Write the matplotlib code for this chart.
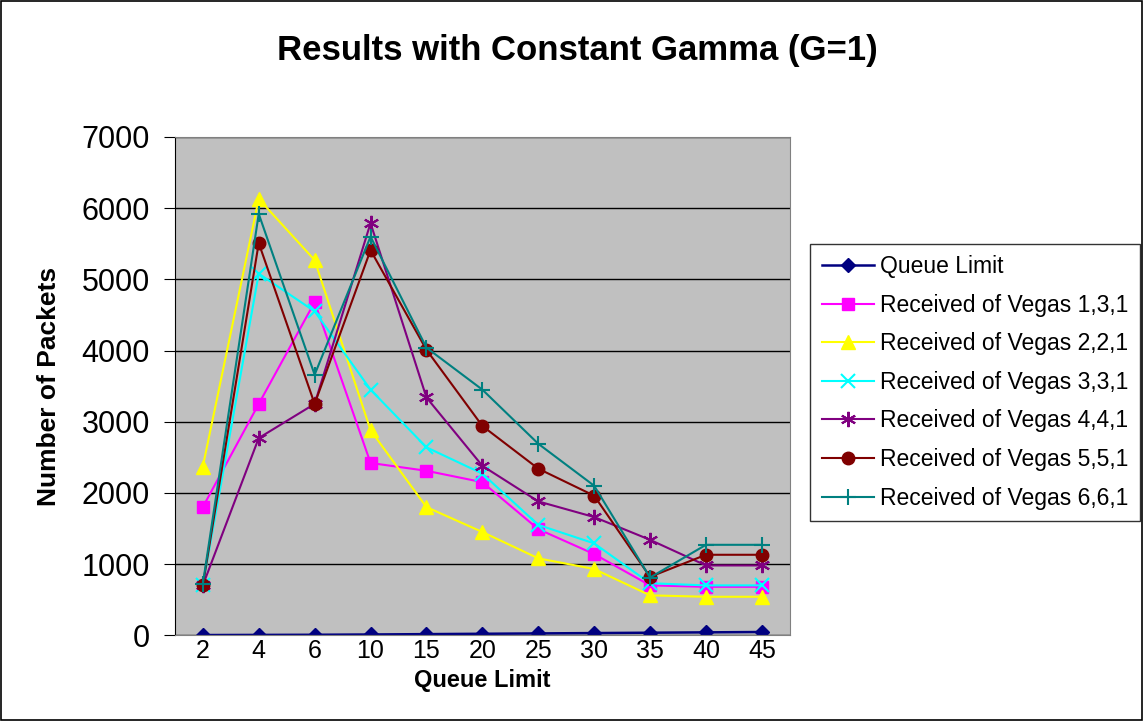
import numpy as np
from matplotlib import pyplot as plt
from matplotlib.patches import Rectangle

plt.rcParams['font.family'] = ['Liberation Sans', 'DejaVu Sans']

# datos
queue = ['2', '4', '6', '10', '15', '20', '25', '30', '35', '40', '45']
queue_limit = [2, 4, 6, 10, 15, 20, 25, 30, 35, 40, 45]
vegas_131 = [1800, 3250, 4680, 2420, 2310, 2150, 1490, 1140, 700, 680, 680]
vegas_221 = [2370, 6130, 5270, 2880, 1800, 1450, 1080, 930, 560, 540, 540]
vegas_331 = [700, 5080, 4550, 3450, 2640, 2270, 1550, 1290, 730, 700, 700]
vegas_441 = [700, 2770, 3250, 5790, 3340, 2380, 1880, 1660, 1340, 980, 980]
vegas_551 = [700, 5510, 3250, 5410, 4010, 2940, 2340, 1960, 820, 1130, 1130]
vegas_661 = [720, 5920, 3660, 5600, 4040, 3450, 2690, 2100, 810, 1270, 1270]

fig = plt.figure(figsize=(11.43, 7.21), dpi=100)
fig.patches.append(Rectangle((0.001, 0.001), 0.998, 0.998, transform=fig.transFigure,
                             fill=False, edgecolor='black', linewidth=1.2))
ax = fig.add_axes([0.153, 0.119, 0.538, 0.691])
ax.set_facecolor('#c0c0c0')

x = np.arange(len(queue))
ax.plot(x, queue_limit, color='#000080', marker='D', markersize=7, lw=1.8, label='Queue Limit')
ax.plot(x, vegas_131, color='#ff00ff', marker='s', markersize=8, lw=1.5, label='Received of Vegas 1,3,1')
ax.plot(x, vegas_221, color='#ffff00', marker='^', markersize=10, lw=1.5, label='Received of Vegas 2,2,1')
ax.plot(x, vegas_331, color='#00ffff', marker='x', markersize=10, mew=1.5, lw=1.5, label='Received of Vegas 3,3,1')
ax.plot(x, vegas_441, color='#800080', marker=(6, 2, 0), markersize=11, mew=1.5, lw=1.5, label='Received of Vegas 4,4,1')
ax.plot(x, vegas_551, color='#800000', marker='o', markersize=9, lw=1.5, label='Received of Vegas 5,5,1')
ax.plot(x, vegas_661, color='#008080', marker='+', markersize=12, mew=1.5, lw=1.5, label='Received of Vegas 6,6,1')

ax.set_xlim(-0.5, len(queue) - 0.5)
ax.set_ylim(0, 7000)
ax.set_yticks(range(0, 7001, 1000))
ax.set_xticks(x)
ax.set_xticklabels(queue)
ax.tick_params(axis='y', labelsize=22, direction='out', length=8, pad=10)
ax.tick_params(axis='x', labelsize=18, length=0, pad=3)
ax.yaxis.grid(True, color='black', linewidth=1)
ax.set_axisbelow(True)
for s in ['top', 'right', 'bottom']:
    ax.spines[s].set_color('#808080')
ax.spines['left'].set_color('black')

ax.set_ylabel('Number of Packets', fontsize=19, fontweight='bold', labelpad=15)
ax.set_xlabel('Queue Limit', fontsize=17, fontweight='bold', labelpad=4)
fig.text(0.505, 0.93, 'Results with Constant Gamma (G=1)', fontsize=25, fontweight='bold',
         ha='center', va='center')

leg = fig.legend(loc='upper left', bbox_to_anchor=(0.7087, 0.662), fontsize=16.5, frameon=True,
                 fancybox=False, edgecolor='black', handlelength=2.3, labelspacing=0.68,
                 borderpad=0.5, handletextpad=0.25, borderaxespad=0)
leg.get_frame().set_linewidth(1)

fig.savefig('out.png', dpi=100)
